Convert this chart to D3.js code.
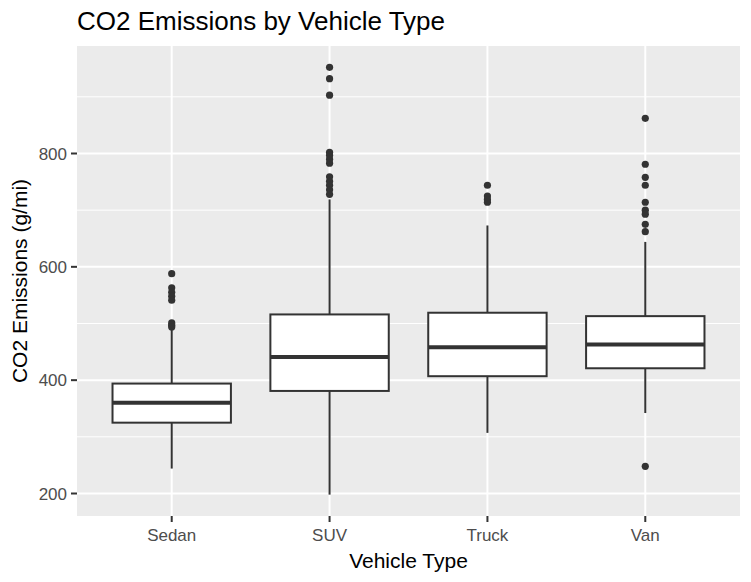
<!DOCTYPE html>
<html>
<head>
<meta charset="utf-8">
<script src="https://cdn.jsdelivr.net/npm/d3@7"></script>
<style>
  body { margin: 0; background: #fff; }
  text { font-family: "Liberation Sans", Arial, sans-serif; }
</style>
</head>
<body>
<svg width="751" height="582"></svg>
<script>
// box stats
const categories = ["Sedan", "SUV", "Truck", "Van"];
const whiskerLow = [244, 198, 307, 342];
const q1 = [325, 381, 407, 421];
const median = [360, 441, 458, 463];
const q3 = [394, 516, 519, 513];
const whiskerHigh = [489, 719, 673, 644];
const outliers = [
  [588, 563, 555, 548, 541, 501, 497, 494],
  [952, 932, 903, 802, 797, 790, 783, 759, 751, 744, 736, 728],
  [744, 725, 719, 714],
  [862, 781, 758, 744, 714, 700, 693, 675, 662, 248]
];
const yTicks = [200, 400, 600, 800];
const yMinor = [300, 500, 700, 900];

const svg = d3.select("svg");
const margin = { left: 77, right: 11, top: 46, bottom: 66 };
const W = 751, H = 582;
const pw = W - margin.left - margin.right;
const ph = H - margin.top - margin.bottom;

const g = svg.append("g").attr("transform", `translate(${margin.left},${margin.top})`);

// ggplot-ish: discrete expansion 0.6 units each side
const step = pw / (categories.length + 0.2);
const cx = (i) => step * (0.6 + i);

const allVals = whiskerLow.concat(whiskerHigh, outliers.flat());
const lo = d3.min(allVals), hi = d3.max(allVals);
const pad = (hi - lo) * 0.05;
const y = d3.scaleLinear().domain([lo - pad, hi + pad]).range([ph, 0]);

// panel
g.append("rect").attr("width", pw).attr("height", ph).attr("fill", "#EBEBEB");

g.selectAll(".minor").data(yMinor).enter().append("line")
  .attr("x1", 0).attr("x2", pw)
  .attr("y1", (d) => y(d)).attr("y2", (d) => y(d))
  .attr("stroke", "#fff").attr("stroke-width", 1);

g.selectAll(".major").data(yTicks).enter().append("line")
  .attr("x1", 0).attr("x2", pw)
  .attr("y1", (d) => y(d)).attr("y2", (d) => y(d))
  .attr("stroke", "#fff").attr("stroke-width", 2);

g.selectAll(".vgrid").data(categories).enter().append("line")
  .attr("x1", (d, i) => cx(i)).attr("x2", (d, i) => cx(i))
  .attr("y1", 0).attr("y2", ph)
  .attr("stroke", "#fff").attr("stroke-width", 2);

// boxes
const bw = step * 0.75;
const col = "#333333";
categories.forEach((c, i) => {
  const xc = cx(i);
  g.append("line").attr("x1", xc).attr("x2", xc)
    .attr("y1", y(whiskerHigh[i])).attr("y2", y(q3[i]))
    .attr("stroke", col).attr("stroke-width", 2);
  g.append("line").attr("x1", xc).attr("x2", xc)
    .attr("y1", y(q1[i])).attr("y2", y(whiskerLow[i]))
    .attr("stroke", col).attr("stroke-width", 2);
  g.append("rect")
    .attr("x", xc - bw / 2).attr("width", bw)
    .attr("y", y(q3[i])).attr("height", y(q1[i]) - y(q3[i]))
    .attr("fill", "#fff").attr("stroke", col).attr("stroke-width", 2);
  g.append("line").attr("x1", xc - bw / 2).attr("x2", xc + bw / 2)
    .attr("y1", y(median[i])).attr("y2", y(median[i]))
    .attr("stroke", col).attr("stroke-width", 4);
  g.selectAll(null).data(outliers[i]).enter().append("circle")
    .attr("cx", xc).attr("cy", (d) => y(d)).attr("r", 3.6)
    .attr("fill", col);
});

// y axis
g.selectAll(".ytick").data(yTicks).enter().append("line")
  .attr("x1", -6).attr("x2", 0)
  .attr("y1", (d) => y(d)).attr("y2", (d) => y(d))
  .attr("stroke", col).attr("stroke-width", 2);
g.selectAll(".ylab").data(yTicks).enter().append("text")
  .attr("x", -10).attr("y", (d) => y(d)).attr("dy", "0.36em")
  .attr("text-anchor", "end").attr("fill", "#4D4D4D")
  .style("font-size", "17px").text((d) => d);

// x axis
g.selectAll(".xtick").data(categories).enter().append("line")
  .attr("x1", (d, i) => cx(i)).attr("x2", (d, i) => cx(i))
  .attr("y1", ph).attr("y2", ph + 6)
  .attr("stroke", col).attr("stroke-width", 2);
g.selectAll(".xlab").data(categories).enter().append("text")
  .attr("x", (d, i) => cx(i)).attr("y", ph + 25)
  .attr("text-anchor", "middle").attr("fill", "#4D4D4D")
  .style("font-size", "17px").text((d) => d);

// titles
svg.append("text").attr("x", margin.left + pw / 2).attr("y", 568)
  .attr("text-anchor", "middle").attr("fill", "#000")
  .style("font-size", "21px").text("Vehicle Type");
svg.append("text")
  .attr("transform", `translate(27,${margin.top + ph / 2}) rotate(-90)`)
  .attr("text-anchor", "middle").attr("fill", "#000")
  .style("font-size", "21px").text("CO2 Emissions (g/mi)");
svg.append("text").attr("x", margin.left).attr("y", 30)
  .attr("fill", "#000").style("font-size", "26px")
  .text("CO2 Emissions by Vehicle Type");
</script>
</body>
</html>
